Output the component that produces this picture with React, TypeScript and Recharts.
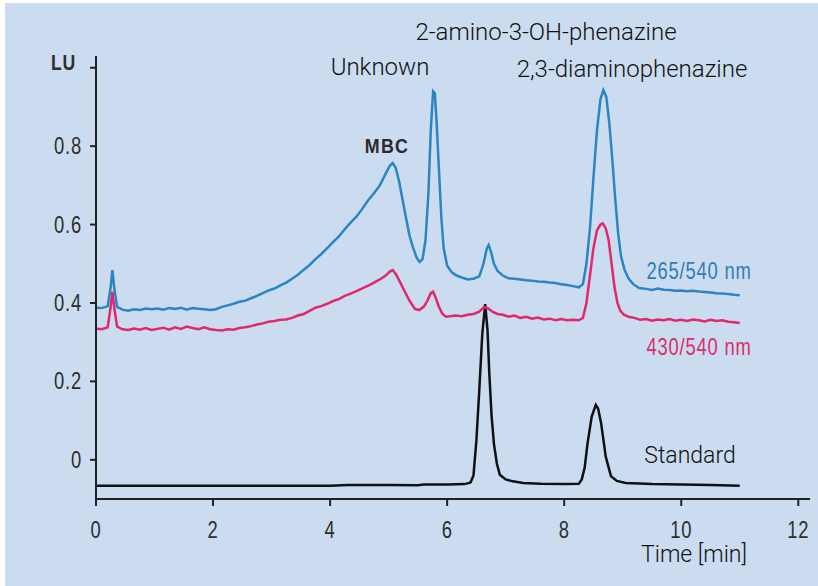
import React from "react";
import { LineChart, Line, XAxis, YAxis, Customized } from "recharts";

// 265/540 nm trace
const blueT = [0.00,0.10,0.20,0.25,0.28,0.31,0.36,0.45,0.55,0.65,0.75,0.85,0.95,1.05,1.15,1.25,1.35,1.45,1.55,1.65,1.75,1.85,1.95,2.05,2.15,2.25,2.35,2.45,2.55,2.65,2.75,2.85,2.95,3.05,3.15,3.25,3.35,3.45,3.55,3.65,3.75,3.85,3.95,4.05,4.15,4.25,4.35,4.45,4.55,4.65,4.75,4.85,4.95,5.02,5.07,5.12,5.18,5.24,5.30,5.36,5.42,5.48,5.53,5.58,5.63,5.68,5.72,5.76,5.79,5.82,5.86,5.90,5.94,6.00,6.08,6.16,6.25,6.35,6.45,6.55,6.62,6.68,6.71,6.75,6.80,6.86,6.95,7.05,7.15,7.25,7.35,7.45,7.55,7.65,7.75,7.85,7.95,8.05,8.15,8.25,8.32,8.38,8.44,8.50,8.56,8.62,8.67,8.72,8.77,8.82,8.87,8.92,8.97,9.03,9.10,9.18,9.28,9.40,9.50,9.60,9.70,9.80,9.90,10.00,10.10,10.20,10.30,10.40,10.50,10.60,10.70,10.80,10.90,11.00];
const blueV = [0.388,0.387,0.392,0.440,0.484,0.440,0.390,0.383,0.380,0.384,0.382,0.386,0.384,0.386,0.383,0.387,0.385,0.388,0.383,0.387,0.385,0.384,0.382,0.384,0.390,0.394,0.398,0.403,0.406,0.412,0.418,0.425,0.432,0.437,0.445,0.452,0.462,0.472,0.485,0.497,0.512,0.525,0.540,0.555,0.570,0.588,0.605,0.620,0.640,0.662,0.680,0.700,0.730,0.750,0.757,0.745,0.710,0.662,0.615,0.570,0.540,0.515,0.505,0.512,0.560,0.680,0.840,0.940,0.935,0.860,0.740,0.620,0.540,0.495,0.478,0.470,0.465,0.460,0.462,0.468,0.500,0.540,0.548,0.530,0.500,0.482,0.470,0.463,0.462,0.460,0.458,0.457,0.455,0.454,0.452,0.451,0.448,0.446,0.443,0.440,0.448,0.500,0.590,0.720,0.840,0.920,0.943,0.925,0.860,0.770,0.670,0.580,0.520,0.485,0.462,0.448,0.438,0.436,0.433,0.437,0.434,0.433,0.431,0.432,0.430,0.431,0.429,0.428,0.427,0.425,0.424,0.423,0.421,0.420];

// 430/540 nm trace
const pinkT = [0.00,0.10,0.20,0.25,0.28,0.31,0.36,0.45,0.55,0.65,0.75,0.85,0.95,1.05,1.15,1.25,1.35,1.45,1.55,1.65,1.75,1.85,1.95,2.05,2.15,2.25,2.35,2.45,2.55,2.65,2.75,2.85,2.95,3.05,3.15,3.25,3.35,3.45,3.55,3.65,3.75,3.85,3.95,4.05,4.15,4.25,4.35,4.45,4.55,4.65,4.75,4.85,4.95,5.02,5.07,5.12,5.20,5.28,5.36,5.45,5.52,5.60,5.66,5.72,5.76,5.80,5.86,5.92,5.98,6.05,6.15,6.25,6.35,6.45,6.55,6.63,6.70,6.78,6.86,6.95,7.05,7.15,7.25,7.35,7.45,7.55,7.65,7.75,7.85,7.95,8.05,8.15,8.25,8.32,8.38,8.44,8.50,8.56,8.62,8.66,8.71,8.76,8.81,8.86,8.91,8.96,9.02,9.10,9.20,9.30,9.40,9.50,9.60,9.70,9.80,9.90,10.00,10.10,10.20,10.30,10.40,10.50,10.60,10.70,10.80,10.90,11.00];
const pinkV = [0.334,0.333,0.338,0.390,0.429,0.390,0.340,0.333,0.331,0.335,0.332,0.336,0.331,0.334,0.337,0.332,0.338,0.334,0.340,0.336,0.333,0.338,0.333,0.331,0.330,0.333,0.332,0.336,0.338,0.341,0.345,0.348,0.352,0.354,0.357,0.358,0.362,0.368,0.372,0.380,0.388,0.392,0.398,0.405,0.410,0.418,0.424,0.430,0.437,0.444,0.452,0.460,0.470,0.480,0.484,0.475,0.452,0.428,0.405,0.385,0.382,0.390,0.405,0.425,0.429,0.415,0.390,0.372,0.365,0.366,0.368,0.366,0.370,0.372,0.378,0.390,0.386,0.377,0.372,0.370,0.365,0.368,0.362,0.365,0.360,0.363,0.358,0.360,0.356,0.359,0.356,0.357,0.356,0.362,0.400,0.470,0.540,0.585,0.600,0.603,0.590,0.560,0.500,0.440,0.400,0.380,0.370,0.365,0.362,0.357,0.359,0.355,0.358,0.356,0.359,0.355,0.357,0.354,0.358,0.356,0.353,0.357,0.354,0.356,0.352,0.351,0.349];

// Standard trace
const stdT = [0.00,0.50,1.00,2.00,3.00,4.00,4.30,5.00,5.50,5.60,6.00,6.30,6.40,6.45,6.50,6.55,6.60,6.65,6.69,6.72,6.76,6.80,6.85,6.90,7.00,7.12,7.30,7.60,8.00,8.25,8.30,8.35,8.40,8.47,8.54,8.58,8.63,8.71,8.76,8.80,8.90,9.05,9.50,10.00,10.50,11.00];
const stdV = [-0.066,-0.066,-0.066,-0.066,-0.066,-0.066,-0.064,-0.064,-0.065,-0.063,-0.063,-0.062,-0.058,-0.040,0.050,0.180,0.320,0.397,0.330,0.221,0.110,0.040,-0.010,-0.038,-0.050,-0.055,-0.059,-0.061,-0.062,-0.061,-0.050,-0.020,0.043,0.110,0.140,0.130,0.094,0.008,-0.020,-0.042,-0.054,-0.059,-0.062,-0.063,-0.064,-0.066];

const xTicks = [0, 2, 4, 6, 8, 10, 12];
const yTicks = [0, 0.2, 0.4, 0.6, 0.8, 1.0];
const yUnitLabel = "LU";

const blueData = blueT.map((t, i) => ({ t, v: blueV[i] }));
const pinkData = pinkT.map((t, i) => ({ t, v: pinkV[i] }));
const stdData = stdT.map((t, i) => ({ t, v: stdV[i] }));

const tickFont = "'Liberation Sans', Arial, sans-serif";
const labelFont = "Roboto, 'Noto Sans', sans-serif";

// condensed-looking text: horizontally squeezed
const CText = ({ x, y, anchor = "middle", size = 21, bold = false, fill = "#333", spacing = 1, sx = 0.85, children }: any) => (
  <text
    transform={`translate(${x},${y}) scale(${sx},1)`}
    x={0}
    y={0}
    textAnchor={anchor}
    fontFamily={tickFont}
    fontSize={size}
    fontWeight={bold ? "bold" : "normal"}
    letterSpacing={spacing}
    fill={fill}
  >
    {children}
  </text>
);

const YTick = (props: any) => {
  const { x, y, payload } = props;
  const v = payload.value;
  const isTop = v >= 0.99;
  const txt = isTop ? yUnitLabel : v === 0 ? "0" : v.toFixed(1);
  return (
    <CText x={isTop ? x - 4 : x + 2} y={isTop ? y + 2 : y + 8} anchor="end" bold={isTop} size={isTop ? 22 : 23} sx={0.8} fill="#2e2e2e">
      {txt}
    </CText>
  );
};

const XTick = (props: any) => {
  const { x, y, payload } = props;
  return (
    <CText x={x} y={y + 8} anchor="middle" size={23} sx={0.8} fill="#2e2e2e">
      {payload.value}
    </CText>
  );
};

const Annotations = () => (
  <g>
    <text x={541} y={37} textAnchor="middle" fontFamily={labelFont} fontSize={24} fontWeight={300} fill="#111">2-amino-3-OH-phenazine</text>
    <text x={375} y={72} textAnchor="middle" fontFamily={labelFont} fontSize={24} fontWeight={300} fill="#111">Unknown</text>
    <text x={627} y={74} textAnchor="middle" fontFamily={labelFont} fontSize={24} fontWeight={300} fill="#111">2,3-diaminophenazine</text>
    <CText x={382} y={150} size={21} bold spacing={1.5} fill="#2a2a2a">MBC</CText>
    <CText x={694} y={276} size={23} sx={0.8} fill="#2f7db5">265/540 nm</CText>
    <CText x={694} y={352} size={23} sx={0.8} fill="#d92f6a">430/540 nm</CText>
    <text x={685} y={460} textAnchor="middle" fontFamily={labelFont} fontSize={23} fontWeight={300} fill="#111">Standard</text>
    <text x={689} y={559} textAnchor="middle" fontFamily={labelFont} fontSize={23} fontWeight={300} fill="#111">Time [min]</text>
  </g>
);

export default function App() {
  return (
    <div style={{ position: "absolute", left: 5, top: 3, width: 813, height: 583, background: "#ccdcf0" }}>
      <LineChart width={813} height={583} margin={{ top: 53, right: 8, bottom: 47, left: 0 }}>
        <XAxis
          dataKey="t"
          type="number"
          domain={[0, 12.2]}
          ticks={xTicks}
          allowDataOverflow
          stroke="#222"
          strokeWidth={2}
          tickSize={7}
          tickMargin={24}
          tick={<XTick />}
          height={40}
          tickLine={{ stroke: "#222", strokeWidth: 2 }}
        />
        <YAxis
          type="number"
          domain={[-0.1, 1.03]}
          ticks={yTicks}
          allowDataOverflow
          stroke="#222"
          strokeWidth={2}
          tickSize={6}
          tickMargin={10}
          width={91}
          tick={<YTick />}
          tickLine={{ stroke: "#222", strokeWidth: 2 }}
        />
        <Line data={stdData} dataKey="v" type="linear" stroke="#111" strokeWidth={2.5} dot={false} isAnimationActive={false} />
        <Line data={pinkData} dataKey="v" type="linear" stroke="#e0286a" strokeWidth={2.5} dot={false} isAnimationActive={false} />
        <Line data={blueData} dataKey="v" type="linear" stroke="#2a86c3" strokeWidth={2.5} dot={false} isAnimationActive={false} />
        <Customized component={Annotations} />
      </LineChart>
    </div>
  );
}
